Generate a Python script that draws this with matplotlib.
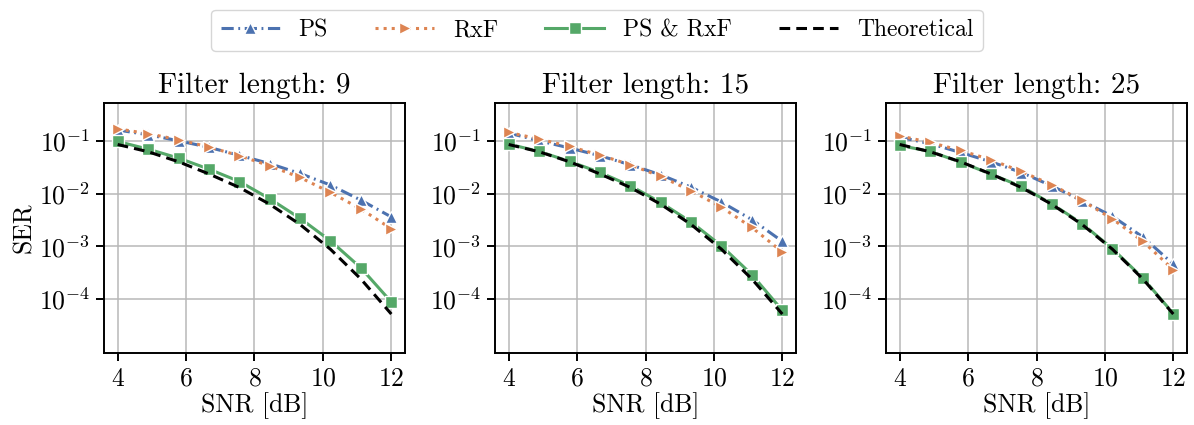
import numpy as np
import matplotlib
matplotlib.use('Agg')
import matplotlib.pyplot as plt

plt.rcParams['font.family'] = 'serif'
plt.rcParams['font.serif'] = ['cmr10']
plt.rcParams['mathtext.fontset'] = 'cm'
plt.rcParams['axes.formatter.use_mathtext'] = True

# SNR grid and SER values
snr = [4.0, 4.89, 5.78, 6.67, 7.56, 8.44, 9.33, 10.22, 11.11, 12.0]
filter_lengths = [9, 15, 25]

ps = [
    [0.16, 0.13, 0.10, 0.075, 0.053, 0.037, 0.024, 0.0145, 0.0075, 0.0036],
    [0.14, 0.10, 0.073, 0.052, 0.035, 0.0227, 0.0132, 0.0069, 0.0032, 0.00124],
    [0.117, 0.088, 0.060, 0.040, 0.025, 0.0140, 0.0073, 0.0037, 0.00150, 0.00046],
]
rxf = [
    [0.169, 0.136, 0.105, 0.076, 0.052, 0.0336, 0.0202, 0.0105, 0.0051, 0.00215],
    [0.144, 0.108, 0.078, 0.0535, 0.035, 0.0211, 0.0113, 0.0055, 0.00228, 0.00078],
    [0.124, 0.093, 0.0656, 0.0436, 0.0262, 0.0147, 0.0074, 0.0033, 0.00124, 0.00036],
]
ps_rxf = [
    [0.097, 0.0695, 0.047, 0.029, 0.0169, 0.0080, 0.0034, 0.00127, 0.00039, 8.8e-5],
    [0.0865, 0.0628, 0.0406, 0.0251, 0.0140, 0.0068, 0.0029, 0.00102, 0.00029, 6.1e-5],
    [0.0816, 0.0628, 0.0394, 0.0233, 0.0136, 0.0064, 0.0027, 0.00090, 0.00025, 5.3e-5],
]
theory = [0.085, 0.062, 0.040, 0.0235, 0.0130, 0.0063, 0.0026, 0.00088, 0.00024, 5.2e-5]

blue, orange, green = '#4C72B0', '#DD8452', '#55A868'

fig = plt.figure(figsize=(11.94, 4.25), dpi=100)
lefts = [104, 495, 886]
axes = []
for k in range(3):
    ax = fig.add_axes([lefts[k] / 1194, 1 - 353 / 425, 301 / 1194, 250 / 425])
    axes.append(ax)
    ax.plot(snr, ps[k], color=blue, ls=(0, (4, 1.5, 0.6, 1.5)), marker='^', lw=2.2, ms=9,
            mec='white', mew=1, label='PS', zorder=3)
    ax.plot(snr, rxf[k], ':', color=orange, marker='>', lw=2.2, ms=9,
            mec='white', mew=1, label='RxF', zorder=3)
    ax.plot(snr, ps_rxf[k], '-', color=green, marker='s', lw=2.2, ms=9,
            mec='white', mew=1, label='PS & RxF', zorder=3)
    ax.plot(snr, theory, color='black', ls=(0, (3.5, 2)), lw=2.2, label='Theoretical', zorder=4)
    ax.set_yscale('log')
    ax.set_ylim(9.5e-6, 0.52)
    ax.set_xticks([4, 6, 8, 10, 12])
    ax.set_yticks([1e-1, 1e-2, 1e-3, 1e-4])
    ax.minorticks_off()
    ax.grid(True, color='#b8b8b8', lw=1.1)
    ax.set_axisbelow(True)
    for s in ax.spines.values():
        s.set_linewidth(1.4)
    ax.tick_params(labelsize=18.5, length=6, width=1.4, pad=4)
    ax.set_title('Filter length: ' + str(filter_lengths[k]), fontsize=21, pad=7)
    ax.set_xlabel('SNR [dB]', fontsize=18.5, labelpad=1)
axes[0].set_ylabel('SER', fontsize=18.5, labelpad=2)

h, l = axes[0].get_legend_handles_labels()
fig.legend(h, l, loc='upper center', bbox_to_anchor=(0.5, 1.005), ncol=4,
           fontsize=17, frameon=True, edgecolor='#cccccc', columnspacing=2.0,
           handlelength=2.5, borderpad=0.4)

fig.savefig('out.png', dpi=100)
